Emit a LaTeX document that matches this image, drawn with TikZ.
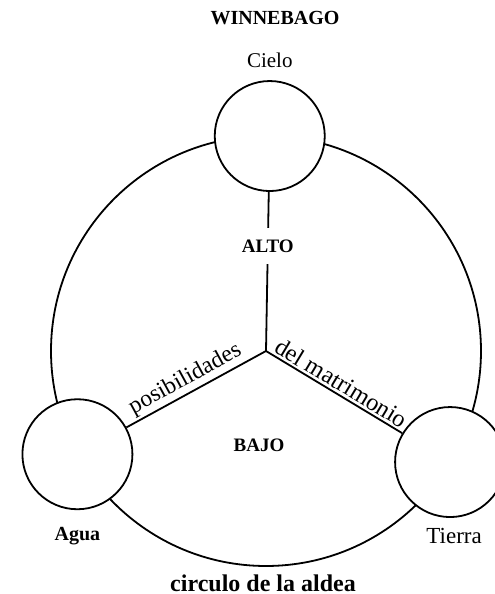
\documentclass[tikz,border=0pt]{standalone}
\usepackage{fontspec}
\setmainfont{Liberation Serif}
\usetikzlibrary{positioning}

\begin{document}
\begin{tikzpicture}[x=0.5pt, y=0.5pt, line width=0.9pt, node distance=6pt,
    place/.style={draw, circle, fill=white, minimum size=55pt, inner sep=0pt},
    caption/.style={font=\fontsize{10.5}{12}\selectfont},
    zone/.style={font=\fontsize{9.5}{11}\selectfont\bfseries, inner sep=1pt},
    along/.style={sloped, above, inner sep=1.2pt, font=\fontsize{11.8}{13}\selectfont}]
  \useasboundingbox (-266,-243) rectangle (228,351);
  \coordinate (o) at (0,0);
  % village circle
  \draw (o) circle[radius=107.5pt];
  \node[place] (cielo) at (89:215) {};
  \node[place] (agua) at (208.7:215) {};
  \node[place] (tierra) at (328.9:215) {};
  % labels
  \node[caption, above=2.5pt of cielo] (lcielo) {Cielo};
  \node[font=\fontsize{10}{12}\selectfont\bfseries] (title) at (9,333) {WINNEBAGO};
  \node[caption, font=\fontsize{10}{12}\selectfont\bfseries, below=5pt of agua] (lagua) {Agua};
  \node[caption, font=\fontsize{11.5}{13}\selectfont, below=1.5pt of tierra, xshift=2pt] (ltierra) {Tierra};
  \node[font=\fontsize{12}{14}\selectfont\bfseries] (aldea) at (-3,-232) {circulo de la aldea};
  \node[zone] (bajo) at (-7,-94) {BAJO};
  % spokes
  \draw (o) -- (cielo) node[zone, pos=0.66, fill=white, inner ysep=6pt] (alto) {ALTO};
  \draw (o) -- (agua) node[along, pos=0.53] (posib) {posibilidades};
  \draw (o) -- (tierra) node[along, pos=0.51, font=\fontsize{12.2}{14}\selectfont] (matri) {del matrimonio};
\end{tikzpicture}
\end{document}
